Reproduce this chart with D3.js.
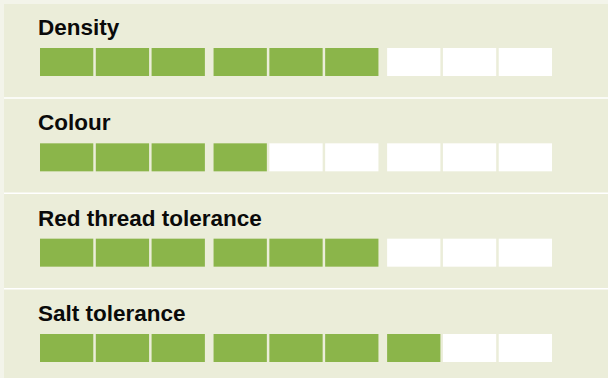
<!DOCTYPE html>
<html>
<head>
<meta charset="utf-8">
<script src="https://cdn.jsdelivr.net/npm/d3@7"></script>
<style>
  html, body { margin: 0; padding: 0; background: #f3f4ea; }
  svg { display: block; }
</style>
</head>
<body>
<svg id="chart" width="608" height="378"></svg>
<script>
// Trait ratings, each scored out of nine blocks (three groups of three)
const traits = ["Density", "Colour", "Red thread tolerance", "Salt tolerance"];
const scores = [6, 4, 6, 7];
const maxScore = 9;
const groups = [0, 1, 2];
const cellsPerGroup = [0, 1, 2];

const width = 608, height = 378;
const svg = d3.select("#chart");

// Pale frame with the beige card inset slightly
svg.append("rect")
  .attr("width", width).attr("height", height)
  .attr("fill", "#f3f4ea");
svg.append("rect")
  .attr("x", 4).attr("y", 4)
  .attr("width", width - 4).attr("height", height - 4)
  .attr("fill", "#ebedd9");

// Row positions: top of each block strip
const rowScale = d3.scalePoint()
  .domain(d3.range(traits.length))
  .range([48, 334]);

// Horizontal layout: three groups, each holding three blocks
const groupScale = d3.scaleBand()
  .domain(groups)
  .range([40, 552])
  .paddingInner(0.05)
  .paddingOuter(0);

const cellScale = d3.scaleBand()
  .domain(cellsPerGroup)
  .range([0, groupScale.bandwidth()])
  .paddingInner(0.045)
  .paddingOuter(0);

const cellH = 28;
const green = "#8bb54a";

const rows = svg.selectAll("g.row")
  .data(traits.map((t, i) => ({ name: t, score: scores[i], i })))
  .join("g")
  .attr("class", "row")
  .attr("transform", d => `translate(0,${rowScale(d.i)})`);

// Divider line under each row except the last
rows.filter(d => d.i < traits.length - 1)
  .append("line")
  .attr("x1", 4).attr("x2", width)
  .attr("y1", 50).attr("y2", 50)
  .attr("stroke", "#ffffff")
  .attr("stroke-width", 1.5);

rows.append("text")
  .attr("x", 38)
  .attr("y", -13)
  .attr("font-family", "'Liberation Sans', Arial, sans-serif")
  .attr("font-weight", "bold")
  .attr("font-size", 22.5)
  .attr("fill", "#0a0a0a")
  .text(d => d.name);

rows.selectAll("rect.cell")
  .data(d => d3.range(maxScore).map(k => ({ k, filled: k < d.score })))
  .join("rect")
  .attr("class", "cell")
  .attr("x", c => groupScale(Math.floor(c.k / 3)) + cellScale(c.k % 3))
  .attr("y", 0)
  .attr("width", cellScale.bandwidth())
  .attr("height", cellH)
  .attr("fill", c => c.filled ? green : "#ffffff");
</script>
</body>
</html>
